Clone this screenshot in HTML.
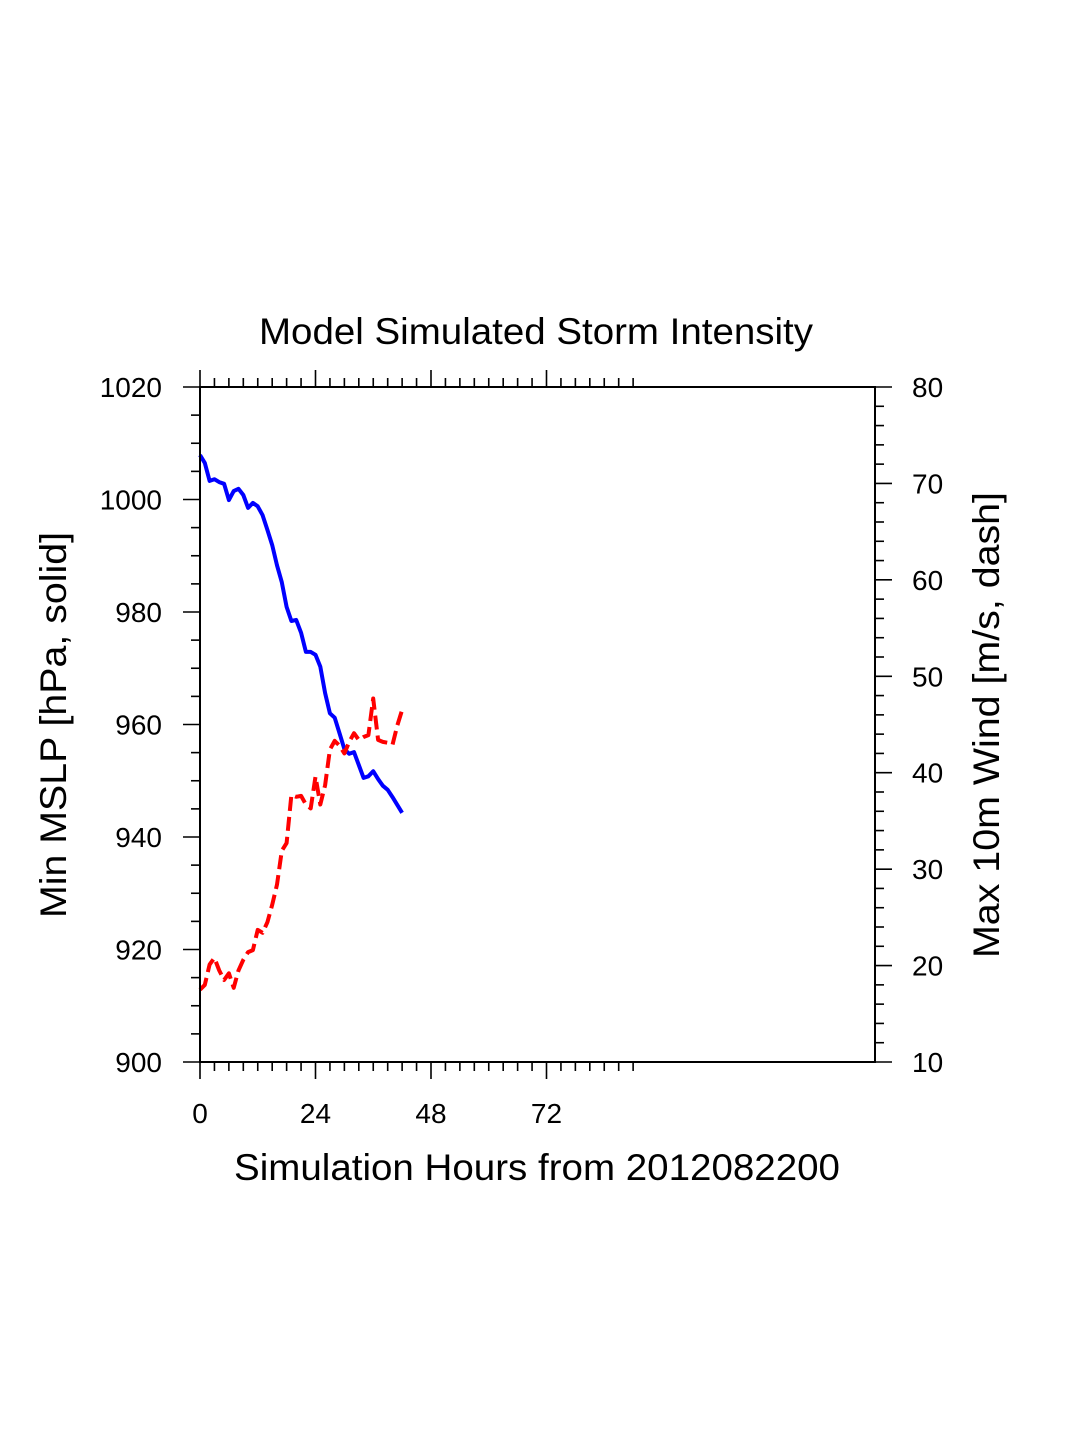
<!DOCTYPE html>
<html><head><meta charset="utf-8"><style>
html,body{margin:0;padding:0;background:#fff}
svg{display:block;font-family:"Liberation Sans",sans-serif}
</style></head><body>
<svg id="chart" width="1075" height="1450" viewBox="0 0 1075 1450">
<rect width="1075" height="1450" fill="#fff"/>
<text x="259" y="344" font-size="37" textLength="554" lengthAdjust="spacingAndGlyphs">Model Simulated Storm Intensity</text>
<g id="axes"></g>
<path id="mslp" fill="none" stroke="#0000ff" stroke-width="4" stroke-linejoin="round"/>
<path id="wind" fill="none" stroke="#ff0000" stroke-width="4" stroke-dasharray="14,6" stroke-linejoin="round"/>
<rect x="200" y="387" width="675" height="675" fill="none" stroke="#000" stroke-width="2"/>
<text x="234" y="1180" font-size="37" textLength="606" lengthAdjust="spacingAndGlyphs">Simulation Hours from 2012082200</text>
<text transform="translate(66,918) rotate(-90)" font-size="37" textLength="386" lengthAdjust="spacingAndGlyphs">Min MSLP  [hPa, solid]</text>
<text transform="translate(999,958) rotate(-90)" font-size="37" textLength="466" lengthAdjust="spacingAndGlyphs">Max 10m Wind  [m/s, dash]</text>
</svg>
<script>
const hours=[0,1,2,3,4,5,6,7,8,9,10,11,12,13,14,15,16,17,18,19,20,21,22,23,24,25,26,27,28,29,30,31,32,33,34,35,36,37,38,39,40,41,42];
const mslp=[1007.9,1006.5,1003.3,1003.6,1003.1,1002.8,999.9,1001.5,1001.9,1000.8,998.5,999.4,998.8,997.2,994.6,991.9,988.3,985.3,980.9,978.4,978.6,976.3,972.9,972.9,972.4,970.3,965.6,962.0,961.2,958.4,955.6,954.8,955.1,952.8,950.5,950.8,951.7,950.3,949.1,948.4,947.1,945.7,944.3];
const wind=[17.5,18.0,20.1,20.8,19.5,18.5,19.2,17.7,19.5,20.6,21.4,21.6,23.7,23.4,24.5,26.3,28.4,31.9,32.7,37.7,37.5,37.6,36.7,36.3,39.6,36.7,38.7,42.4,43.3,42.8,42.0,43.2,44.1,43.4,43.7,43.9,47.7,43.4,43.2,43.1,42.9,44.9,46.5];
const xTicks=[0,24,48,72];
const leftTicks=[900,920,940,960,980,1000,1020];
const rightTicks=[10,20,30,40,50,60,70,80];
const X0=200,X1=875,Y0=387,Y1=1062;
const xs=h=>X0+h*(X1-X0)/140.26;
const yl=p=>Y1-(p-900)*(Y1-Y0)/120;
const yr=w=>Y1-(w-10)*(Y1-Y0)/70;
const NS='http://www.w3.org/2000/svg';
const ax=document.getElementById('axes');
function line(x1,y1,x2,y2,name){const l=document.createElementNS(NS,'line');
l.setAttribute('x1',x1);l.setAttribute('y1',y1);l.setAttribute('x2',x2);l.setAttribute('y2',y2);
l.setAttribute('stroke','#000');l.setAttribute('stroke-width','1.6');


ax.appendChild(l);}
function txt(x,y,s,anchor,name){const t=document.createElementNS(NS,'text');
t.setAttribute('x',x);t.setAttribute('y',y);t.setAttribute('font-size','28');t.setAttribute('text-anchor',anchor);t.textContent=s;


ax.appendChild(t);}
for(let h=0;h<=91;h+=3){const x=xs(h);const maj=h%24===0;const L=maj?17:9;
line(x,Y1,x,Y1+L,'x-tick');line(x,Y0,x,Y0-L,'top-tick');}
xTicks.forEach(h=>txt(xs(h),1123,String(h),'middle','x-tick-label'));
for(let p=900;p<=1020;p+=5){const y=yl(p);const maj=p%20===0;line(X0,y,X0-(maj?17:9),y,'left-tick');}
leftTicks.forEach(p=>txt(162,yl(p)+10,String(p),'end','left-tick-label'));
for(let w=10;w<=80;w+=2){const y=yr(w);const maj=w%10===0;line(X1,y,X1+(maj?17:9),y,'right-tick');}
rightTicks.forEach(w=>txt(912,yr(w)+10,String(w),'start','right-tick-label'));
document.getElementById('mslp').setAttribute('d',hours.map((h,i)=>(i?'L':'M')+xs(h).toFixed(1)+','+yl(mslp[i]).toFixed(1)).join(''));
document.getElementById('wind').setAttribute('d',hours.map((h,i)=>(i?'L':'M')+xs(h).toFixed(1)+','+yr(wind[i]).toFixed(1)).join(''));
</script>
</body></html>
